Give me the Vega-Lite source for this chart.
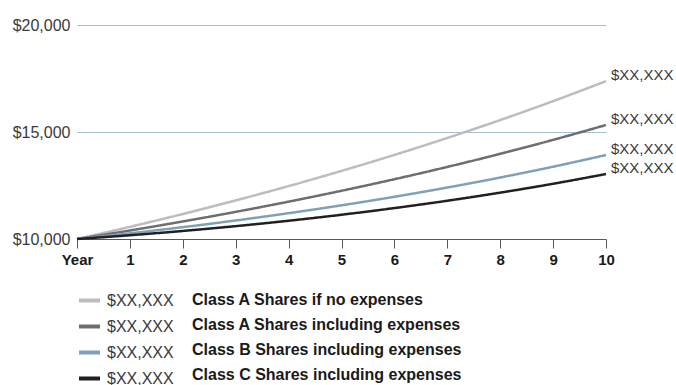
{
  "$schema": "https://vega.github.io/schema/vega-lite/v6.json",
  "width": 529,
  "height": 214,
  "padding": {"left": 7, "top": 17, "right": 0, "bottom": 0},
  "background": "white",
  "config": {
    "view": {"stroke": null},
    "font": "Liberation Sans",
    "legend": {"layout": {"bottom": {"anchor": "start", "direction": "horizontal", "margin": 0}}}
  },
  "data": {
    "values": [
      {"code": "A0", "series": "Class A Shares if no expenses", "year": 0, "value": 10000},
      {"code": "A0", "series": "Class A Shares if no expenses", "year": 1, "value": 10568},
      {"code": "A0", "series": "Class A Shares if no expenses", "year": 2, "value": 11168},
      {"code": "A0", "series": "Class A Shares if no expenses", "year": 3, "value": 11803},
      {"code": "A0", "series": "Class A Shares if no expenses", "year": 4, "value": 12473},
      {"code": "A0", "series": "Class A Shares if no expenses", "year": 5, "value": 13182},
      {"code": "A0", "series": "Class A Shares if no expenses", "year": 6, "value": 13930},
      {"code": "A0", "series": "Class A Shares if no expenses", "year": 7, "value": 14722},
      {"code": "A0", "series": "Class A Shares if no expenses", "year": 8, "value": 15558},
      {"code": "A0", "series": "Class A Shares if no expenses", "year": 9, "value": 16442},
      {"code": "A0", "series": "Class A Shares if no expenses", "year": 10, "value": 17376},
      {"code": "A", "series": "Class A Shares including expenses", "year": 0, "value": 10000},
      {"code": "A", "series": "Class A Shares including expenses", "year": 1, "value": 10397},
      {"code": "A", "series": "Class A Shares including expenses", "year": 2, "value": 10820},
      {"code": "A", "series": "Class A Shares including expenses", "year": 3, "value": 11268},
      {"code": "A", "series": "Class A Shares including expenses", "year": 4, "value": 11745},
      {"code": "A", "series": "Class A Shares including expenses", "year": 5, "value": 12253},
      {"code": "A", "series": "Class A Shares including expenses", "year": 6, "value": 12793},
      {"code": "A", "series": "Class A Shares including expenses", "year": 7, "value": 13368},
      {"code": "A", "series": "Class A Shares including expenses", "year": 8, "value": 13980},
      {"code": "A", "series": "Class A Shares including expenses", "year": 9, "value": 14632},
      {"code": "A", "series": "Class A Shares including expenses", "year": 10, "value": 15327},
      {"code": "B", "series": "Class B Shares including expenses", "year": 0, "value": 10000},
      {"code": "B", "series": "Class B Shares including expenses", "year": 1, "value": 10265},
      {"code": "B", "series": "Class B Shares including expenses", "year": 2, "value": 10553},
      {"code": "B", "series": "Class B Shares including expenses", "year": 3, "value": 10866},
      {"code": "B", "series": "Class B Shares including expenses", "year": 4, "value": 11206},
      {"code": "B", "series": "Class B Shares including expenses", "year": 5, "value": 11574},
      {"code": "B", "series": "Class B Shares including expenses", "year": 6, "value": 11973},
      {"code": "B", "series": "Class B Shares including expenses", "year": 7, "value": 12405},
      {"code": "B", "series": "Class B Shares including expenses", "year": 8, "value": 12872},
      {"code": "B", "series": "Class B Shares including expenses", "year": 9, "value": 13378},
      {"code": "B", "series": "Class B Shares including expenses", "year": 10, "value": 13925},
      {"code": "C", "series": "Class C Shares including expenses", "year": 0, "value": 10000},
      {"code": "C", "series": "Class C Shares including expenses", "year": 1, "value": 10176},
      {"code": "C", "series": "Class C Shares including expenses", "year": 2, "value": 10376},
      {"code": "C", "series": "Class C Shares including expenses", "year": 3, "value": 10601},
      {"code": "C", "series": "Class C Shares including expenses", "year": 4, "value": 10853},
      {"code": "C", "series": "Class C Shares including expenses", "year": 5, "value": 11134},
      {"code": "C", "series": "Class C Shares including expenses", "year": 6, "value": 11445},
      {"code": "C", "series": "Class C Shares including expenses", "year": 7, "value": 11788},
      {"code": "C", "series": "Class C Shares including expenses", "year": 8, "value": 12166},
      {"code": "C", "series": "Class C Shares including expenses", "year": 9, "value": 12581},
      {"code": "C", "series": "Class C Shares including expenses", "year": 10, "value": 13037}
    ]
  },
  "encoding": {
    "x": {
      "field": "year",
      "type": "quantitative",
      "scale": {"domain": [0, 10], "nice": false},
      "axis": {
        "title": null,
        "values": [0, 1, 2, 3, 4, 5, 6, 7, 8, 9, 10],
        "labelExpr": "datum.value == 0 ? 'Year' : datum.label",
        "grid": false,
        "domainColor": "#58595b",
        "tickColor": "#58595b",
        "tickSize": 9,
        "labelPadding": 4,
        "labelFontSize": 15,
        "labelFontWeight": "bold",
        "labelColor": "#1a1a1a",
        "labelFlush": false
      }
    },
    "y": {
      "field": "value",
      "type": "quantitative",
      "scale": {"domain": [10000, 20000], "nice": false, "zero": false},
      "axis": {
        "title": null,
        "values": [10000, 15000, 20000],
        "format": "$,.0f",
        "domain": false,
        "ticks": false,
        "grid": true,
        "gridColor": "#a7c0ce",
        "gridWidth": 1,
        "labelPadding": 7,
        "labelFontSize": 16,
        "labelColor": "#3a3a3a",
        "minExtent": 70,
        "maxExtent": 70
      }
    }
  },
  "layer": [
    {
      "mark": {"type": "line", "strokeWidth": 2.5, "interpolate": "monotone"},
      "encoding": {
        "color": {
          "field": "code",
          "type": "nominal",
          "scale": {"domain": ["A0", "A", "B", "C"], "range": ["#bcbdc0", "#6d6e71", "#7ea1b8", "#231f20"]},
          "legend": {
            "orient": "bottom",
            "direction": "vertical",
            "title": null,
            "symbolType": "stroke",
            "symbolStrokeWidth": 4,
            "symbolSize": 441,
            "labelExpr": "'$XX,XXX'",
            "labelFontSize": 16,
            "labelColor": "#3a3a3a",
            "labelOffset": 5,
            "rowPadding": 5,
            "padding": 0,
            "offset": 21
          }
        },
        "strokeDash": {
          "field": "series",
          "type": "nominal",
          "scale": {
            "domain": ["Class A Shares if no expenses", "Class A Shares including expenses", "Class B Shares including expenses", "Class C Shares including expenses"],
            "range": [[1, 0], [1, 0], [1, 0], [1, 0]]
          },
          "legend": {
            "orient": "bottom",
            "direction": "vertical",
            "title": null,
            "symbolType": "stroke",
            "symbolSize": 441,
            "symbolOpacity": 0,
            "symbolStrokeColor": "transparent",
            "labelFontSize": 16,
            "labelFontWeight": "bold",
            "labelColor": "#1a1a1a",
            "labelOffset": -5,
            "labelLimit": 400,
            "rowPadding": 5,
            "padding": 0,
            "offset": 21
          }
        }
      }
    },
    {
      "transform": [{"filter": "datum.year == 10"}],
      "mark": {"type": "text", "align": "left", "baseline": "middle", "dx": 5, "dy": -6, "fontSize": 15, "color": "#3a3a3a"},
      "encoding": {"text": {"value": "$XX,XXX"}}
    }
  ]
}
